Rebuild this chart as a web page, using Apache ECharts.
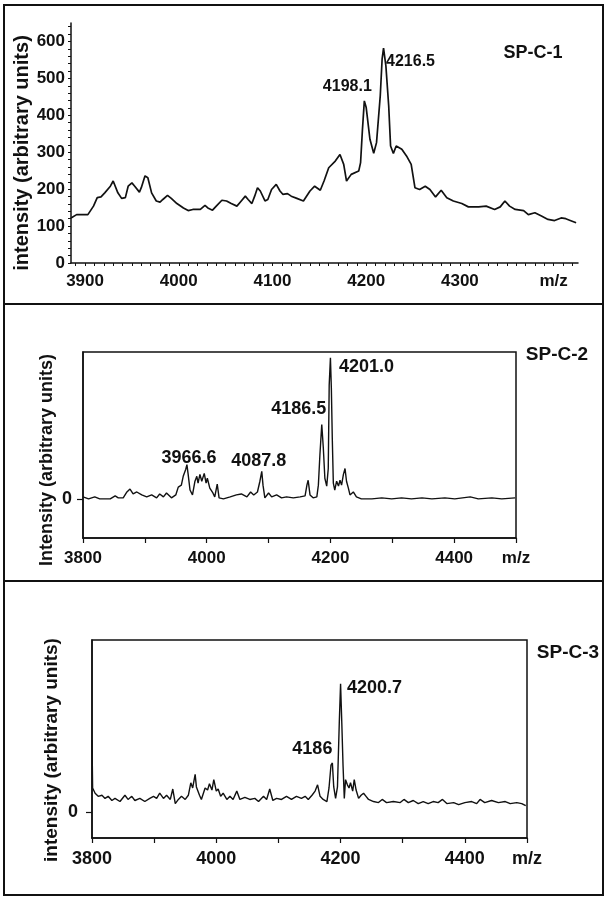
<!DOCTYPE html>
<html>
<head>
<meta charset="utf-8">
<script src="https://cdn.jsdelivr.net/npm/echarts@6/dist/echarts.min.js"></script>
<style>
  html, body { margin: 0; padding: 0; background: #fff; }
  #chart { width: 610px; height: 900px; }
</style>
</head>
<body>
<div id="chart"></div>
<script>
// SP-C-1 spectrum [m/z, intensity]
const sp1 = [
  [3885, 122], [3891, 131], [3903, 131], [3909, 154], [3913, 177], [3917, 179], [3921, 190],
  [3927, 208], [3930, 222], [3932, 217], [3935, 190], [3939, 175], [3943, 177], [3946, 208],
  [3950, 217], [3953, 208], [3958, 192], [3960, 204], [3964, 236], [3967, 231], [3971, 190],
  [3976, 168], [3980, 165], [3983, 172], [3988, 183], [3992, 175], [3998, 161], [4005, 149],
  [4010, 142], [4015, 145], [4023, 145], [4028, 156], [4031, 149], [4036, 143], [4040, 154],
  [4046, 170], [4051, 168], [4056, 161], [4062, 154], [4066, 166], [4071, 181], [4074, 172],
  [4078, 161], [4081, 181], [4084, 204], [4087, 195], [4092, 168], [4095, 172], [4099, 199],
  [4104, 213], [4108, 195], [4111, 186], [4116, 188], [4120, 181], [4126, 175], [4133, 168],
  [4140, 195], [4145, 208], [4151, 197], [4155, 222], [4160, 258], [4167, 276], [4172, 294],
  [4176, 267], [4179, 222], [4184, 240], [4192, 249], [4194, 272], [4196, 362], [4198, 439],
  [4200, 421], [4204, 335], [4208, 297], [4211, 326], [4215, 453], [4217, 553], [4218.5, 582],
  [4221, 534], [4224, 426], [4226, 317], [4229, 297], [4232, 317], [4238, 308], [4243, 290],
  [4248, 267], [4252, 204], [4257, 199], [4263, 208], [4268, 199], [4274, 179], [4280, 197],
  [4286, 177], [4293, 168], [4302, 161], [4309, 152], [4320, 152], [4328, 154], [4337, 145],
  [4343, 152], [4348, 168], [4353, 154], [4359, 145], [4368, 142], [4373, 131], [4380, 136],
  [4387, 127], [4394, 118], [4401, 115], [4408, 122], [4413, 120], [4417, 116], [4424, 109]
];

// SP-C-2 spectrum [m/z, intensity]
const sp2 = [
  [3800, 2], [3809, 0], [3819, 2], [3827, 0], [3844, 0], [3852, 3], [3857, 1], [3865, 1],
  [3871, 7], [3876, 10], [3881, 5], [3887, 7], [3895, 4], [3903, 2], [3911, 4], [3919, 1],
  [3924, 5], [3930, 2], [3935, 6], [3943, 1], [3950, 4], [3954, 12], [3959, 14], [3962, 23],
  [3966, 30], [3968, 35], [3970, 25], [3973, 9], [3977, 4], [3981, 18], [3984, 23], [3986, 16],
  [3989, 25], [3992, 18], [3996, 26], [3999, 16], [4001, 21], [4005, 11], [4010, 6], [4013, 2],
  [4017, 15], [4020, 1], [4027, 0], [4038, 2], [4048, 4], [4056, 5], [4065, 2], [4071, 7],
  [4076, 4], [4082, 7], [4086, 18], [4089, 28], [4091, 14], [4094, 1], [4100, 6], [4105, 2],
  [4113, 4], [4121, 1], [4129, 2], [4140, 1], [4151, 2], [4159, 3], [4162, 14], [4164, 19],
  [4167, 4], [4172, 1], [4178, 2], [4180.5, 14], [4183, 45], [4186, 76], [4188.5, 52], [4191, 21],
  [4194, 13], [4196.5, 31], [4198, 116], [4200, 144], [4201.5, 113], [4203, 62], [4204.7, 16],
  [4207, 9], [4210, 18], [4213, 13], [4215.5, 19], [4218, 14], [4221, 25], [4223.6, 31],
  [4226, 18], [4229, 11], [4231.6, 4], [4237, 7], [4242, 2], [4250, 0], [4267, 0], [4283, 1],
  [4299, 0], [4315, 1], [4331, 0], [4348, 1], [4364, 0], [4385, 1], [4401, 0], [4426, 2],
  [4439, 0], [4461, 1], [4477, 0], [4498.5, 1]
];

// SP-C-3 spectrum [m/z, intensity]
const sp3 = [
  [3800, 69], [3801, 23], [3805, 18], [3810, 15], [3816, 16], [3821, 13], [3826, 15], [3832, 11],
  [3837, 13], [3845, 10], [3853, 16], [3858, 12], [3864, 15], [3869, 11], [3877, 13], [3885, 10],
  [3893, 13], [3899, 15], [3904, 13], [3909, 18], [3915, 13], [3920, 16], [3926, 12], [3930, 22],
  [3934, 8], [3939, 12], [3944, 15], [3950, 12], [3955, 16], [3959, 28], [3962, 23], [3966, 36],
  [3968, 24], [3973, 16], [3976, 12], [3982, 23], [3986, 21], [3989, 27], [3993, 21], [3996, 31],
  [4000, 20], [4003, 22], [4007, 15], [4011, 18], [4017, 12], [4022, 15], [4027, 12], [4033, 20],
  [4038, 12], [4046, 14], [4054, 12], [4062, 13], [4068, 10], [4076, 15], [4081, 12], [4086, 22],
  [4091, 11], [4097, 13], [4105, 12], [4113, 15], [4121, 12], [4129, 15], [4137, 13], [4143, 15],
  [4148, 12], [4154, 16], [4159, 20], [4163, 26], [4167, 15], [4172, 12], [4178, 10], [4181.4, 23],
  [4184.6, 45], [4186.8, 47], [4189, 24], [4192, 13], [4195, 24], [4198, 87], [4200, 123], [4202, 85],
  [4204, 44], [4206, 13], [4208, 31], [4211, 26], [4213.6, 23], [4216, 28], [4219.5, 20], [4222, 31],
  [4225, 21], [4229, 13], [4233, 16], [4237, 18], [4241, 15], [4245, 12], [4253, 10], [4261, 9],
  [4267, 12], [4274, 9], [4285, 10], [4296, 9], [4302, 12], [4309, 9], [4317, 11], [4325, 8],
  [4333, 10], [4341, 8], [4349, 10], [4357, 9], [4364, 12], [4371, 8], [4382, 9], [4390, 7],
  [4400, 9], [4411, 10], [4419, 8], [4424.5, 12], [4432, 9], [4443, 11], [4454, 9], [4465, 10],
  [4473, 8], [4483.5, 9], [4491.5, 8], [4498, 6]
];

// peak annotations: label, m/z and intensity of the peak top
const sp1Peaks = [['4198.1', 4198, 439], ['4216.5', 4218.5, 582]];
const sp2Peaks = [['3966.6', 3968, 35], ['4087.8', 4089, 28], ['4186.5', 4186, 76], ['4201.0', 4200, 144]];
const sp3Peaks = [['4186', 4186.8, 47], ['4200.7', 4200, 123]];

// tick labels
const sp1XLabels = [3900, 4000, 4100, 4200, 4300, 4400];
const sp1YLabels = [0, 100, 200, 300, 400, 500, 600];
const panelNames = ['SP-C-1', 'SP-C-2', 'SP-C-3'];
const yTitles = ['intensity (arbitrary units)', 'Intensity (arbitrary units)', 'intensity (arbitrary units)'];

const FONT = '"Liberation Sans", Arial, sans-serif';
const black = '#111';

const sp1XTicks = [];
for (let v = 3890; v <= 4420; v += 10) sp1XTicks.push(v);
const sp1YTicks = [];
for (let v = 0; v <= 640; v += 20) sp1YTicks.push(v);

function peakMarks(peaks, offsets, size) {
  return {
    symbol: 'circle',
    symbolSize: 1,
    silent: true,
    itemStyle: { color: 'rgba(0,0,0,0)' },
    label: {
      show: true,
      position: 'inside',
      formatter: '{b}',
      color: black,
      fontFamily: FONT,
      fontWeight: 'bold',
      fontSize: size,
    },
    data: peaks.map((p, i) => ({
      name: p[0],
      coord: [p[1], p[2]],
      label: { offset: offsets[i] },
    })),
  };
}

const lineAxis = { show: true, onZero: false, lineStyle: { color: black, width: 1.5 } };
const labelFont = (size) => ({ color: black, fontFamily: FONT, fontWeight: 'bold', fontSize: size });

const myChart = echarts.init(document.getElementById('chart'), null, { renderer: 'canvas' });
myChart.setOption({
  animation: false,
  backgroundColor: '#fff',
  grid: [
    { left: 71, top: 23, width: 507, height: 240, show: false },
    { left: 83, top: 352, width: 433, height: 186, show: true, borderColor: black, borderWidth: 1.5 },
    { left: 92, top: 640, width: 435, height: 198, show: true, borderColor: black, borderWidth: 1.5 },
  ],
  xAxis: [
    {
      gridIndex: 0, type: 'value', min: 3885, max: 4426,
      axisLine: lineAxis,
      axisTick: { show: true, length: 3, customValues: sp1XTicks, lineStyle: { color: black, width: 1 } },
      axisLabel: Object.assign(labelFont(17), {
        margin: 10,
        customValues: sp1XLabels,
        formatter: (v) => (v === 4400 ? 'm/z' : String(v)),
      }),
      splitLine: { show: false },
    },
    {
      gridIndex: 1, type: 'value', min: 3800, max: 4500, interval: 100,
      axisLine: lineAxis,
      axisTick: { show: true, length: 5, lineStyle: { color: black, width: 1.2 } },
      axisLabel: Object.assign(labelFont(17), {
        margin: 12,
        showMinLabel: true, showMaxLabel: true,
        formatter: (v) => (v === 4500 ? 'm/z' : (v % 200 === 0 ? String(v) : '')),
      }),
      splitLine: { show: false },
    },
    {
      gridIndex: 2, type: 'value', min: 3800, max: 4500, interval: 100,
      axisLine: lineAxis,
      axisTick: { show: true, length: 5, lineStyle: { color: black, width: 1.2 } },
      axisLabel: Object.assign(labelFont(18), {
        margin: 12,
        showMinLabel: true, showMaxLabel: true,
        formatter: (v) => (v === 4500 ? 'm/z' : (v % 200 === 0 ? String(v) : '')),
      }),
      splitLine: { show: false },
    },
  ],
  yAxis: [
    {
      gridIndex: 0, type: 'value', min: 0, max: 650,
      axisLine: lineAxis,
      axisTick: { show: true, length: 3, customValues: sp1YTicks, lineStyle: { color: black, width: 1 } },
      axisLabel: Object.assign(labelFont(17), { margin: 6, customValues: sp1YLabels }),
      splitLine: { show: false },
    },
    {
      gridIndex: 1, type: 'value', min: -40, max: 150,
      axisLine: lineAxis,
      axisTick: { show: true, length: 6, customValues: [0], lineStyle: { color: black, width: 1.2 } },
      axisLabel: Object.assign(labelFont(18), { margin: 11, customValues: [0] }),
      splitLine: { show: false },
    },
    {
      gridIndex: 2, type: 'value', min: -25, max: 165,
      axisLine: lineAxis,
      axisTick: { show: true, length: 6, customValues: [0], lineStyle: { color: black, width: 1.2 } },
      axisLabel: Object.assign(labelFont(18), { margin: 14, customValues: [0] }),
      splitLine: { show: false },
    },
  ],
  series: [
    {
      name: panelNames[0], type: 'line', xAxisIndex: 0, yAxisIndex: 0,
      data: sp1, symbol: 'none', silent: true,
      lineStyle: { color: black, width: 1.7 },
      markPoint: peakMarks(sp1Peaks, [[-17, -14], [27, 13]], 16),
    },
    {
      name: panelNames[1], type: 'line', xAxisIndex: 1, yAxisIndex: 1,
      data: sp2, symbol: 'none', silent: true,
      lineStyle: { color: black, width: 1.4 },
      markPoint: peakMarks(sp2Peaks, [[2, -7], [-3, -10], [-23, -15], [36, 9]], 18),
    },
    {
      name: panelNames[2], type: 'line', xAxisIndex: 2, yAxisIndex: 2,
      data: sp3, symbol: 'none', silent: true,
      lineStyle: { color: black, width: 1.4 },
      markPoint: peakMarks(sp3Peaks, [[-20, -14], [34, 4]], 18),
    },
  ],
  graphic: [
    // outer frame and panel separators
    { type: 'rect', shape: { x: 4, y: 5, width: 599, height: 890 }, style: { fill: null, stroke: black, lineWidth: 2 } },
    { type: 'line', shape: { x1: 4, y1: 304, x2: 603, y2: 304 }, style: { stroke: black, lineWidth: 2 } },
    { type: 'line', shape: { x1: 4, y1: 581, x2: 603, y2: 581 }, style: { stroke: black, lineWidth: 2 } },
    // y axis titles
    { type: 'text', x: 22, y: 153, rotation: Math.PI / 2,
      style: { text: yTitles[0], align: 'center', verticalAlign: 'middle', fill: black, font: 'bold 20px ' + FONT } },
    { type: 'text', x: 47, y: 460, rotation: Math.PI / 2,
      style: { text: yTitles[1], align: 'center', verticalAlign: 'middle', fill: black, font: 'bold 18px ' + FONT } },
    { type: 'text', x: 52, y: 750, rotation: Math.PI / 2,
      style: { text: yTitles[2], align: 'center', verticalAlign: 'middle', fill: black, font: 'bold 19px ' + FONT } },
    // panel names
    { type: 'text', x: 533, y: 53,
      style: { text: panelNames[0], align: 'center', verticalAlign: 'middle', fill: black, font: 'bold 18px ' + FONT } },
    { type: 'text', x: 557, y: 355,
      style: { text: panelNames[1], align: 'center', verticalAlign: 'middle', fill: black, font: 'bold 19px ' + FONT } },
    { type: 'text', x: 568, y: 653,
      style: { text: panelNames[2], align: 'center', verticalAlign: 'middle', fill: black, font: 'bold 19px ' + FONT } },
  ],
});
</script>
</body>
</html>
